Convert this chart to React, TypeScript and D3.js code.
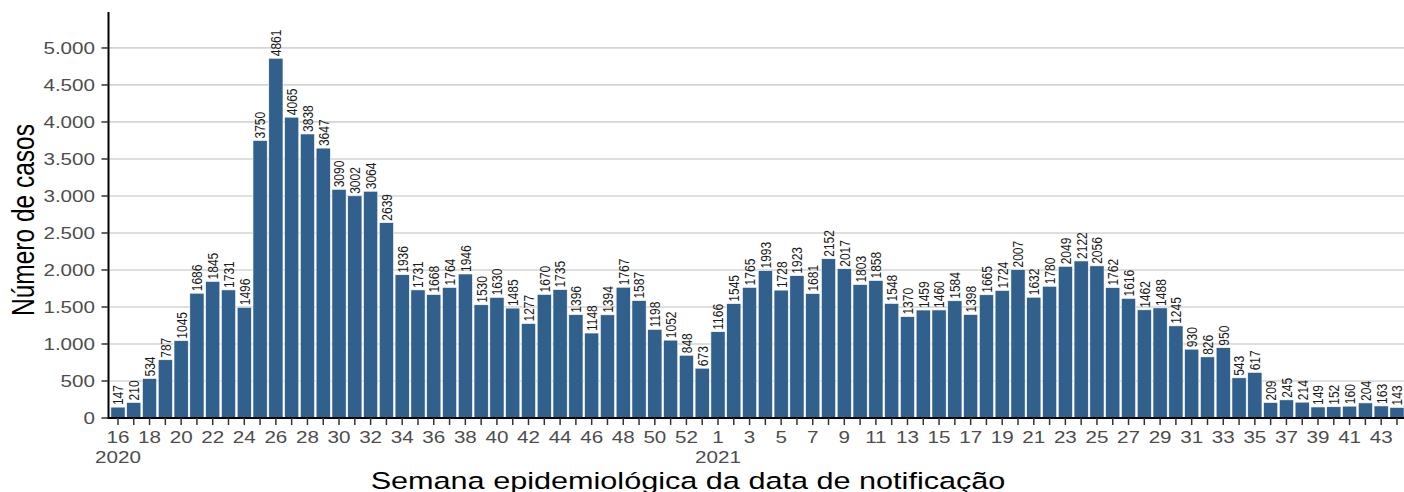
import * as React from 'react';
import * as d3 from 'd3';

// semanas epidemiológicas: 2020 (16..53) e 2021 (1..44)
const weeks2020 = d3.range(16, 54);
const weeks2021 = d3.range(1, 45);

const cases2020 = [
  147, 210, 534, 787, 1045, 1686, 1845, 1731, 1496, 3750, 4861, 4065, 3838, 3647, 3090, 3002, 3064,
  2639, 1936, 1731, 1668, 1764, 1946, 1530, 1630, 1485, 1277, 1670, 1735, 1396, 1148, 1394, 1767,
  1587, 1198, 1052, 848, 673,
];
const cases2021 = [
  1166, 1545, 1765, 1993, 1728, 1923, 1681, 2152, 2017, 1803, 1858, 1548, 1370, 1459, 1460, 1584,
  1398, 1665, 1724, 2007, 1632, 1780, 2049, 2122, 2056, 1762, 1616, 1462, 1488, 1245, 930, 826, 950,
  543, 617, 209, 245, 214, 149, 152, 160, 204, 163, 143,
];

const yTicks = [0, 500, 1000, 1500, 2000, 2500, 3000, 3500, 4000, 4500, 5000];

type Row = { key: string; week: number; year: number; value: number };

const rows: Row[] = [
  ...weeks2020.map((w, i) => ({ key: `2020-${w}`, week: w, year: 2020, value: cases2020[i] })),
  ...weeks2021.map((w, i) => ({ key: `2021-${w}`, week: w, year: 2021, value: cases2021[i] })),
];

const W = 1404;
const H = 492;
const left = 108.5;
const top = 12;
const bottom = 418;
const sx = 1.25; // texto mais largo, como no original
const font = '"Liberation Sans", Arial, Helvetica, sans-serif';
const fmt = (v: number) => d3.format(',')(v).replace(/,/g, '.');

export default function App() {
  const svgRef = React.useRef<SVGSVGElement>(null);

  React.useEffect(() => {
    if (!svgRef.current) return;
    const svg = d3.select(svgRef.current);
    svg.selectAll('*').remove();

    const n = rows.length;
    const step = 15.79;
    const right = left + step * (n + 0.2);
    const x = d3
      .scaleBand<string>()
      .domain(rows.map((d) => d.key))
      .range([left + 0.6 * step - step / 2, right - 0.6 * step + step / 2])
      .paddingInner(0.1)
      .paddingOuter(0.05);
    const cx = (d: Row) => x(d.key)! + x.bandwidth() / 2;
    const y = d3.scaleLinear().domain([0, 5486]).range([bottom, top]);

    // grid
    svg
      .append('g')
      .selectAll('line')
      .data(yTicks)
      .enter()
      .append('line')
      .attr('x1', left)
      .attr('x2', W)
      .attr('y1', (d) => y(d))
      .attr('y2', (d) => y(d))
      .attr('stroke', '#d4d4d4')
      .attr('stroke-width', 1.7);

    // bars
    svg
      .append('g')
      .selectAll('rect')
      .data(rows)
      .enter()
      .append('rect')
      .attr('x', (d) => x(d.key)!)
      .attr('y', (d) => y(d.value))
      .attr('width', x.bandwidth())
      .attr('height', (d) => y(0) - y(d.value))
      .attr('fill', '#31608c')
      .attr('stroke', '#ffffff')
      .attr('stroke-width', 0.6);

    // value labels
    svg
      .append('g')
      .selectAll('text')
      .data(rows)
      .enter()
      .append('text')
      .attr('transform', (d) => `translate(${cx(d)}, ${y(d.value) - 2}) scale(${sx},1) rotate(-90)`)
      .attr('dy', '0.36em')
      .attr('text-anchor', 'start')
      .attr('font-family', font)
      .attr('font-size', 12)
      .attr('fill', '#1a1a1a')
      .text((d) => d.value);

    // axes lines
    svg
      .append('line')
      .attr('x1', left)
      .attr('x2', left)
      .attr('y1', top)
      .attr('y2', bottom + 1)
      .attr('stroke', '#000')
      .attr('stroke-width', 2);
    svg
      .append('line')
      .attr('x1', left - 1)
      .attr('x2', W)
      .attr('y1', bottom)
      .attr('y2', bottom)
      .attr('stroke', '#000')
      .attr('stroke-width', 2);

    // y ticks
    const yg = svg.append('g');
    yg.selectAll('line')
      .data(yTicks)
      .enter()
      .append('line')
      .attr('x1', left - 7)
      .attr('x2', left)
      .attr('y1', (d) => y(d))
      .attr('y2', (d) => y(d))
      .attr('stroke', '#333')
      .attr('stroke-width', 1.5);
    yg.selectAll('text')
      .data(yTicks)
      .enter()
      .append('text')
      .attr('transform', (d) => `translate(${left - 13.5}, ${y(d)}) scale(${sx},1)`)
      .attr('dy', '0.36em')
      .attr('text-anchor', 'end')
      .attr('font-family', font)
      .attr('font-size', 16.5)
      .attr('fill', '#4d4d4d')
      .text((d) => fmt(d));

    // x ticks
    const xg = svg.append('g');
    xg.selectAll('line')
      .data(rows)
      .enter()
      .append('line')
      .attr('x1', cx)
      .attr('x2', cx)
      .attr('y1', bottom)
      .attr('y2', bottom + 7)
      .attr('stroke', '#333')
      .attr('stroke-width', 1.5);
    xg.selectAll('text.wk')
      .data(rows.filter((_, i) => i % 2 === 0))
      .enter()
      .append('text')
      .attr('class', 'wk')
      .attr('transform', (d) => `translate(${cx(d)}, 443) scale(${sx},1)`)
      .attr('text-anchor', 'middle')
      .attr('font-family', font)
      .attr('font-size', 16.5)
      .attr('fill', '#4d4d4d')
      .text((d) => d.week);
    xg.selectAll('text.yr')
      .data(rows.filter((d) => d.key === '2020-16' || d.key === '2021-1'))
      .enter()
      .append('text')
      .attr('class', 'yr')
      .attr('transform', (d) => `translate(${cx(d)}, 463) scale(${sx},1)`)
      .attr('text-anchor', 'middle')
      .attr('font-family', font)
      .attr('font-size', 16.5)
      .attr('fill', '#4d4d4d')
      .text((d) => d.year);

    // titles
    svg
      .append('text')
      .attr('transform', `translate(688, 489) scale(${sx},1)`)
      .attr('text-anchor', 'middle')
      .attr('font-family', font)
      .attr('font-size', 24.5)
      .attr('fill', '#000')
      .text('Semana epidemiológica da data de notificação');
    svg
      .append('text')
      .attr('transform', `translate(34, 220) scale(${sx},1) rotate(-90)`)
      .attr('text-anchor', 'middle')
      .attr('font-family', font)
      .attr('font-size', 24.5)
      .attr('fill', '#000')
      .text('Número de casos');
  }, []);

  return (
    <div style={{ position: 'absolute', left: 0, top: 0, width: W, height: H, background: '#fff' }}>
      <svg ref={svgRef} width={W} height={H} />
    </div>
  );
}
